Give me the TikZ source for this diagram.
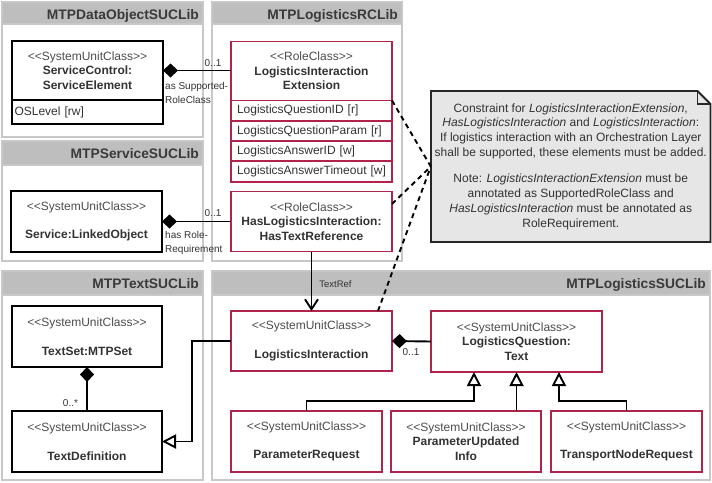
\documentclass[tikz,border=0pt]{standalone}
\usepackage{fontspec}
\setmainfont{Liberation Sans}
\usepackage{tikz}
\usetikzlibrary{positioning,arrows.meta}

\definecolor{libline}{HTML}{C8C8C8}
\definecolor{libhead}{HTML}{BEBEBE}
\definecolor{libtext}{HTML}{3A3A3A}
\definecolor{rcred}{HTML}{B0234A}
\definecolor{stereotxt}{HTML}{4D4D4D}
\definecolor{nametxt}{HTML}{333333}
\definecolor{notefill}{HTML}{E6E6E6}

\newcommand{\stereo}[1]{{\mdseries\color{stereotxt}\fontsize{12}{14.5}\selectfont<\kern0pt<#1>\kern0pt>}}

\begin{document}
\begin{tikzpicture}[x=1pt, y=-1pt,
    libbox/.style={draw=libline, line width=1.9pt, fill=white},
    libbar/.style={draw=libline, line width=1.9pt, fill=libhead},
    libtitle/.style={anchor=base east, inner sep=0pt, text=libtext, font=\fontsize{13.8}{15}\selectfont\bfseries},
    suc/.style={draw=black, line width=1.9pt, fill=white, inner sep=0pt, outer sep=0pt, align=center, text=nametxt, font=\fontsize{12}{14.5}\selectfont\bfseries},
    rc/.style={suc, draw=rcred},
    attr/.style={draw=rcred, line width=1.9pt, fill=white, outer sep=0pt, minimum width=161pt, minimum height=20.3pt, text width=149pt, inner xsep=6pt, inner ysep=0pt, align=left, text=nametxt, font=\fontsize{12}{14}\selectfont},
    lbl/.style={inner sep=0pt, text=nametxt, font=\fontsize{10}{14}\selectfont},
    compo/.style={line width=1.9pt, arrows={Diamond[length=15pt,width=14pt]-}},
    gen/.style={line width=1.9pt, arrows={-Triangle[length=14pt,width=14pt,fill=white]}},
    ref/.style={line width=1.9pt, arrows={-Straight Barb[length=10pt,width=13pt]}},
    cons/.style={line width=1.9pt, dash pattern=on 5pt off 4pt},
  ]
  \useasboundingbox (0,0) rectangle (712,482);

  % libraries
  \draw[libbox] (2,2) rectangle (203,137);
  \draw[libbar] (2,2) rectangle (203,24);
  \node[libtitle] (dolib) at (199,19) {MTPDataObjectSUCLib};
  \draw[libbox] (212,2) rectangle (402,261);
  \draw[libbar] (212,2) rectangle (402,24);
  \node[libtitle] (rclib) at (398,19) {MTPLogisticsRCLib};
  \draw[libbox] (2,141) rectangle (203,261);
  \draw[libbar] (2,141) rectangle (203,165);
  \node[libtitle] (svlib) at (199,158) {MTPServiceSUCLib};
  \draw[libbox] (2,271) rectangle (203,480);
  \draw[libbar] (2,271) rectangle (203,295);
  \node[libtitle] (txlib) at (199,288.5) {MTPTextSUCLib};
  \draw[libbox] (212,271) rectangle (710,480);
  \draw[libbar] (212,271) rectangle (710,295);
  \node[libtitle] (lglib) at (706,288.5) {MTPLogisticsSUCLib};

  % classes
  \node[suc, minimum width=151pt, minimum height=59pt] (sce) at (87.5,70.5)
    {\stereo{SystemUnitClass}\\ServiceControl:\\ServiceElement};
  \node[attr, draw=black, minimum width=151pt, minimum height=24pt, text width=146pt, inner xsep=2.5pt, below=0pt of sce] (osl) {OSLevel [rw]};
  \node[rc, minimum width=161pt, minimum height=59pt] (lie) at (311.5,71)
    {\stereo{RoleClass}\\LogisticsInteraction\\Extension};
  \node[attr, below=0pt of lie] (lqid) {LogisticsQuestionID [r]};
  \node[attr, below=0pt of lqid] (lqpar) {LogisticsQuestionParam [r]};
  \node[attr, below=0pt of lqpar] (laid) {LogisticsAnswerID [w]};
  \node[attr, below=0pt of laid] (lato) {LogisticsAnswerTimeout [w]};
  \node[suc, minimum width=151pt, minimum height=61pt] (slo) at (86.5,221.5)
    {\stereo{SystemUnitClass}\\[14pt]Service:LinkedObject};
  \node[rc, minimum width=161pt, minimum height=60pt] (hli) at (311.5,221.5)
    {\stereo{RoleClass}\\HasLogisticsInteraction:\\HasTextReference};
  \node[suc, minimum width=150pt, minimum height=61pt] (tset) at (87,336.5)
    {\stereo{SystemUnitClass}\\[14pt]TextSet:MTPSet};
  \node[suc, minimum width=150pt, minimum height=61pt] (tdef) at (87,441.5)
    {\stereo{SystemUnitClass}\\[14pt]TextDefinition};
  \node[rc, minimum width=161pt, minimum height=60pt] (li) at (311.5,341)
    {\stereo{SystemUnitClass}\\[14pt]LogisticsInteraction};
  \node[rc, minimum width=171pt, minimum height=61pt] (lq) at (516.5,341.5)
    {\stereo{SystemUnitClass}\\LogisticsQuestion:\\Text};
  \node[rc, minimum width=151pt, minimum height=61pt] (preq) at (306.5,441.5)
    {\stereo{SystemUnitClass}\\[14pt]ParameterRequest};
  \node[rc, minimum width=150pt, minimum height=61pt] (pui) at (466,441.5)
    {\stereo{SystemUnitClass}\\ParameterUpdated\\Info};
  \node[rc, minimum width=151pt, minimum height=61pt] (tnr) at (626.5,441.5)
    {\stereo{SystemUnitClass}\\[14pt]TransportNodeRequest};

  % constraint note
  \filldraw[draw=black!85, fill=notefill, line width=1.9pt] (431,91) -- (697.5,91) -- (710.5,104) -- (710.5,242) -- (431,242) -- cycle;
  \draw[black!85, line width=1.9pt] (697.5,91) |- (710.5,104);
  \node[inner sep=0pt, minimum width=279.5pt, minimum height=151pt, align=center, text=nametxt, font=\fontsize{12}{14.7}\selectfont] (note) at (570.75,166.5)
    {Constraint for \textit{LogisticsInteractionExtension},\\
     \textit{HasLogisticsInteraction} and \textit{LogisticsInteraction}:\\
     If logistics interaction with an Orchestration Layer\\
     shall be supported, these elements must be added.\\[12pt]
     Note: \textit{LogisticsInteractionExtension} must be\\
     annotated as SupportedRoleClass and\\
     \textit{HasLogisticsInteraction} must be annotated as\\
     RoleRequirement.};

  % relations
  \draw[compo] (sce.east) -- (sce.east -| lie.west);
  \node[lbl] (m1) at (213,63) {0..1};
  \node[lbl, anchor=north west, align=left] (r1) at (165,82.5) {as Supported-\\RoleClass};
  \draw[compo] (slo.east) -- (slo.east -| hli.west);
  \node[lbl] (m2) at (213,213) {0..1};
  \node[lbl, anchor=north west, align=left] (r2) at (165,231.5) {has Role-\\Requirement};
  \draw[ref] (hli.south) -- (li.north);
  \node[lbl, font=\fontsize{9.5}{12}\selectfont] (tr) at (335.5,284) {TextRef};
  \draw[compo] (li.east) -- (lq.west);
  \node[lbl] (m3) at (411,352.5) {0..1};
  \draw[compo] (tset.south) -- (tdef.north);
  \node[lbl] (m4) at (70.5,403) {0..*};
  \draw[gen] (li.west) -- ++(-39,0) |- (tdef.east);
  \draw[gen] (preq.north) -- ++(0,-10) -| ([xshift=-42.5pt]lq.south);
  \draw[gen] (lq.south |- pui.north) -- (lq.south);
  \draw[gen] (tnr.north) -- ++(0,-10) -| ([xshift=42.5pt]lq.south);
  \draw[cons] (lie.south east) -- (note.west);
  \draw[cons] ([yshift=-12.5pt]hli.north east) -- (note.west);
  \draw[cons] ([xshift=66.5pt]li.north) -- (note.west);
\end{tikzpicture}
\end{document}
